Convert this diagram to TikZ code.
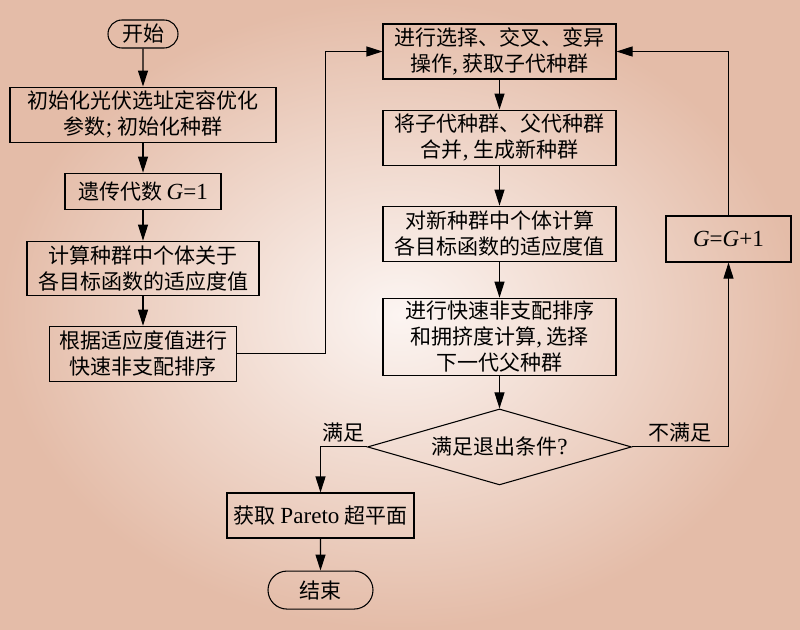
\documentclass[tikz,border=0pt]{standalone}
\usepackage{fontspec}
\setmainfont{Noto Sans CJK SC}
\newfontfamily\latinfont[Scale=1.1]{Liberation Serif}
\newcommand{\en}[1]{{\latinfont #1}}
\usetikzlibrary{positioning,shapes.geometric,shapes.misc,arrows.meta}
\definecolor{bgcenter}{RGB}{252,245,242}
\definecolor{bgedge}{RGB}{228,188,168}

\begin{document}
\begin{tikzpicture}[x=0.75pt,y=-0.75pt,font=\fontsize{15.75pt}{19.5pt}\selectfont]
        \tikzstyle{startstop} = [rounded rectangle, draw=black, line width=0.8pt, inner sep=0pt]
        \tikzstyle{process} = [rectangle, draw=black, line width=0.8pt, inner sep=0pt, align=center, minimum height=41.25pt]
        \tikzstyle{decision} = [diamond, aspect=3.5, draw=black, line width=0.8pt, inner sep=0pt, minimum width=198pt, minimum height=57pt]
        \tikzstyle{arrow} = [line width=0.8pt,-{Triangle[length=12pt,width=7.5pt]}]
        \shade[inner color=bgcenter, outer color=bgedge] (0,0) rectangle (800,629);

        % left column
        \node (start) [startstop, minimum width=52.5pt, minimum height=21pt] at (143,34) {开始};
        \node (init) [process, minimum width=199.5pt, below=28.5pt of start] {初始化光伏选址定容优化\\参数\en{;} 初始化种群};
        \node (gen) [process, minimum width=117pt, minimum height=27pt, below=22.5pt of init] {遗传代数 \en{\textit{G}=1}};
        \node (fit) [process, minimum width=174pt, minimum height=40.5pt, below=23.25pt of gen] {计算种群中个体关于\\各目标函数的适应度值};
        \node (sort) [process, minimum width=140.25pt, below=22.5pt of fit] {根据适应度值进行\\快速非支配排序};

        % right column
        \node (sel) [process, minimum width=174.75pt] at (499.5,51.5) {进行选择、交叉、变异\\操作\en{,} 获取子代种群};
        \node (merge) [process, minimum width=174.75pt, below=22.5pt of sel] {将子代种群、父代种群\\合并\en{,} 生成新种群};
        \node (calc) [process, minimum width=174.75pt, below=30pt of merge] {对新种群中个体计算\\各目标函数的适应度值};
        \node (nsga) [process, minimum width=174.75pt, minimum height=57.75pt, below=27pt of calc] {进行快速非支配排序\\和拥挤度计算\en{,} 选择\\下一代父种群};
        \node (cond) [decision, below=24.5pt of nsga] {满足退出条件\en{?}};
        \node (gplus) [process, minimum width=93.75pt, minimum height=34.5pt] at (728.5,239) {\en{\textit{G}=\textit{G}+1}};

        % bottom
        \node (pareto) [process, minimum width=140.25pt, minimum height=33.75pt] at (320.5,515.5) {获取 \en{Pareto} 超平面};
        \node (stop) [startstop, minimum width=78.75pt, minimum height=28.5pt, below=24pt of pareto] {结束};

        \draw [arrow] (start) -- (init);
        \draw [arrow] (init) -- (gen);
        \draw [arrow] (gen) -- (fit);
        \draw [arrow] (fit) -- (sort);
        \draw [arrow] (sort.east) -- ++(88,0) |- (sel.west);
        \draw [arrow] (sel) -- (merge);
        \draw [arrow] (merge) -- (calc);
        \draw [arrow] (calc) -- (nsga);
        \draw [arrow] (nsga) -- (cond);
        \draw [arrow] (cond.west) -| node[above, pos=0.25] {满足} (pareto.north);
        \draw [arrow] (cond.east) -| node[above, pos=0.25] {不满足} (gplus.south);
        \draw [arrow] (gplus.north) |- (sel.east);
        \draw [arrow] (pareto) -- (stop);
    \end{tikzpicture}
\end{document}
